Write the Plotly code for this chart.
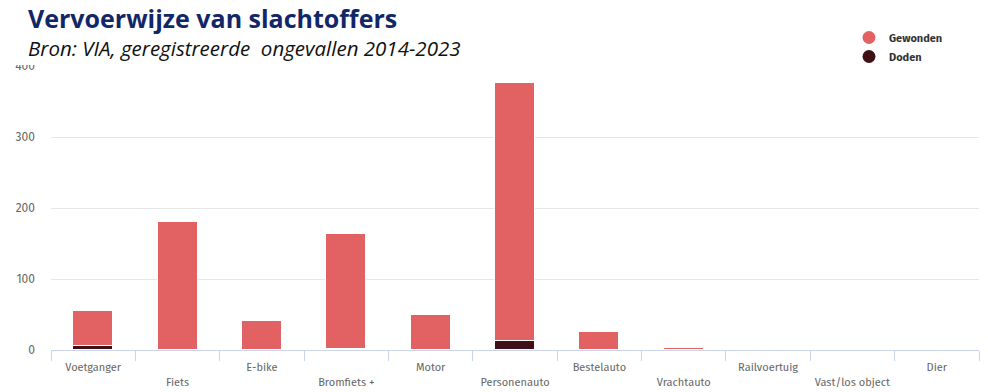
import plotly.graph_objects as go

# Slachtoffers per vervoerwijze, geregistreerde ongevallen 2014-2023
categories = ["Voetganger", "Fiets", "E-bike", "Bromfiets +", "Motor",
              "Personenauto", "Bestelauto", "Vrachtauto", "Railvoertuig",
              "Vast/los object", "Dier"]
gewonden = [49, 180, 41, 162, 49, 364, 25, 3, 0, 0, 0]
doden = [6, 0, 0, 1, 0, 12, 0, 0, 0, 0, 0]
y_ticks = [0, 100, 200, 300, 400]

COL_GEW = "#e26163"
COL_DOD = "#3f1016"

W, H = 988, 392
L, R, T, B = 51, 9, 66, 42
PW, PH = W - L - R, H - T - B


def px_x(x):
    return (x - L) / PW


def px_y(y):
    return (H - B - y) / PH


# labels alternate between two rows
ticktext = [c if i % 2 == 0 else "<br>" + c for i, c in enumerate(categories)]

fig = go.Figure()
fig.add_trace(go.Bar(x=categories, y=doden, name="Doden", marker_color=COL_DOD,
                     marker_line=dict(color="white", width=1), width=0.474,
                     showlegend=False))
fig.add_trace(go.Bar(x=categories, y=gewonden, name="Gewonden", marker_color=COL_GEW,
                     marker_line=dict(color="white", width=1), width=0.474,
                     showlegend=False))
# legend entries with round markers
for name, col in [("Gewonden", COL_GEW), ("Doden", COL_DOD)]:
    fig.add_trace(go.Scatter(x=[None], y=[None], mode="markers", name=name,
                             marker=dict(symbol="circle", size=13, color=col)))

heading = ("<span style='font-size:25px'><b>Vervoerwijze van slachtoffers</b></span><br>"
           "<span style='font-size:20.5px;color:#111111'>"
           "<i>Bron: VIA, geregistreerde&nbsp; ongevallen 2014-2023</i></span>")

fig.update_layout(
    width=W, height=H,
    barmode="stack",
    bargap=0,
    plot_bgcolor="white", paper_bgcolor="white",
    margin=dict(l=L, r=R, t=T, b=B),
    font=dict(family="Fira Sans, Roboto, sans-serif", size=11, color="#666666"),
    legend=dict(x=px_x(849), y=px_y(23), xanchor="left", yanchor="top",
                traceorder="normal",
                font=dict(family="Fira Sans, Roboto, sans-serif", size=11, color="#333333",
                          weight="bold"),
                itemwidth=30, tracegroupgap=0, bgcolor="rgba(0,0,0,0)"),
    xaxis=dict(
        type="category", automargin=False,
        tickvals=categories, ticktext=ticktext,
        tickson="boundaries", ticks="outside", ticklen=10, tickcolor="#ccd6eb",
        showline=True, linecolor="#ccd6eb", linewidth=1,
        showgrid=False, tickangle=0,
        ticklabelstandoff=7,
        tickfont=dict(size=11, color="#666666"),
        range=[-0.5, len(categories) - 0.5],
    ),
    yaxis=dict(
        range=[0, 400], tickvals=y_ticks, automargin=False,
        showgrid=True, gridcolor="#e6e6e6", gridwidth=1,
        zeroline=False, showline=False,
        ticklabelstandoff=15,
        tickfont=dict(size=12, color="#666666"),
    ),
    shapes=[dict(type="rect", xref="paper", yref="paper", layer="above",
                 x0=px_x(0), x1=px_x(725), y0=px_y(65), y1=px_y(0),
                 fillcolor="white", line=dict(width=0))],
    annotations=[
        dict(text=heading, xref="paper", yref="paper", align="left",
             x=px_x(26), y=px_y(-1), xanchor="left", yanchor="top", showarrow=False,
             font=dict(family="Open Sans, sans-serif", size=21.5, color="#122767")),
    ],
)

fig.write_html("out.html")
